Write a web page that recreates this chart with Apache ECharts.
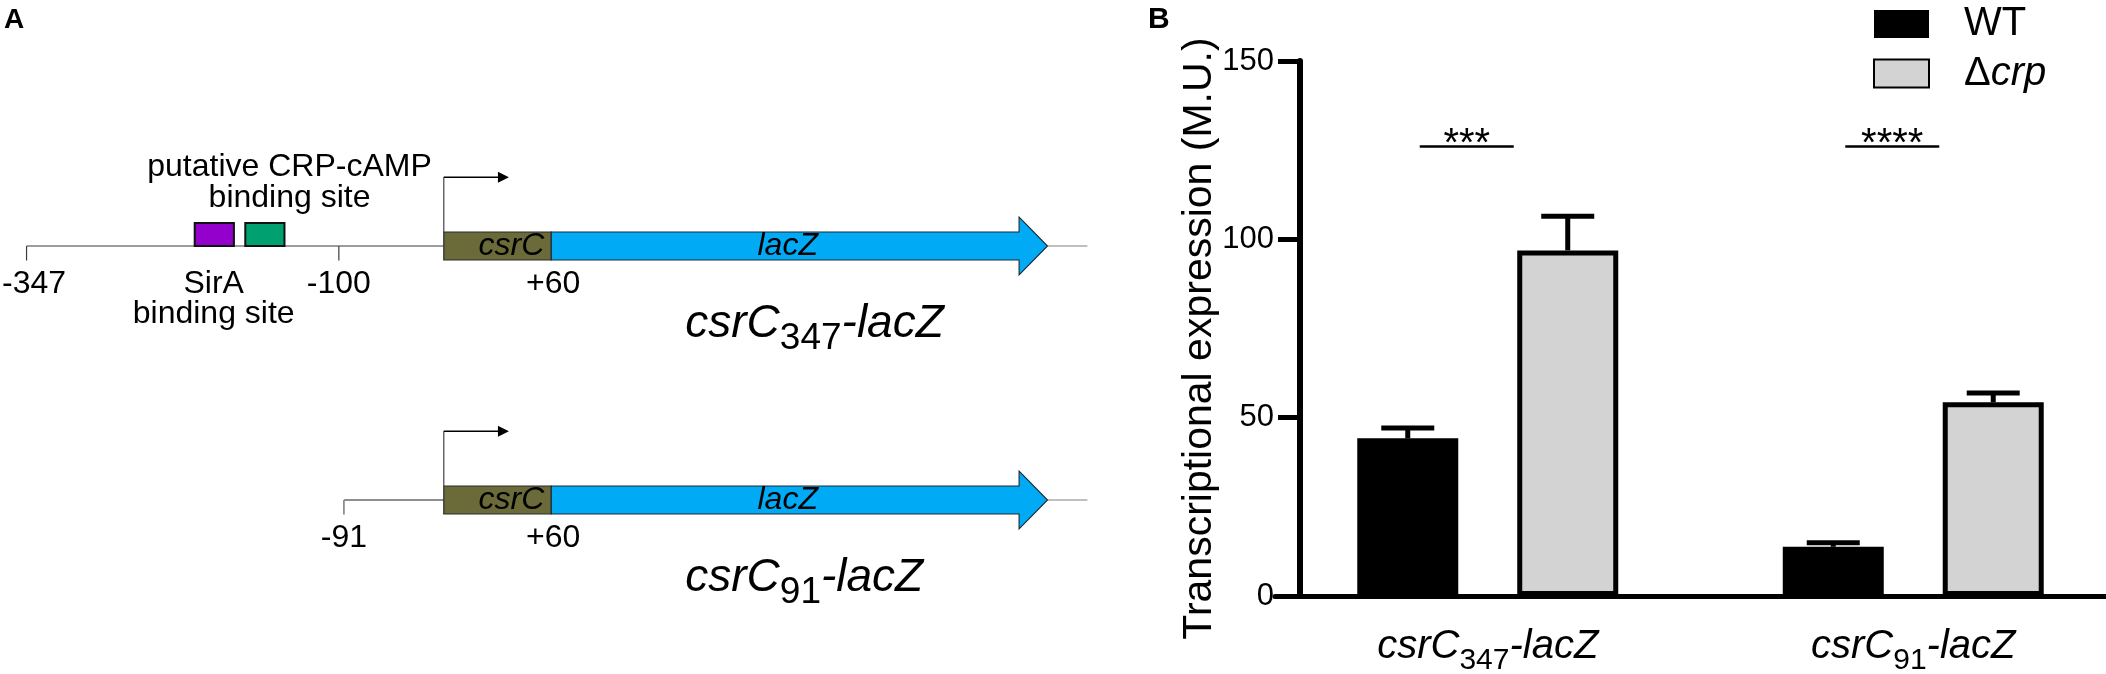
<!DOCTYPE html>
<html>
<head>
<meta charset="utf-8">
<title>csrC-lacZ fusions</title>
<script src="https://cdn.jsdelivr.net/npm/echarts@6.0.0/dist/echarts.min.js"></script>
<style>
  html, body { margin: 0; padding: 0; background: #fff; }
  #chart { width: 2106px; height: 674px; }
</style>
</head>
<body>
<div id="chart"></div>
<script>
// ---------- panel B : transcriptional expression (M.U.) ----------
var strains = ['WT', 'Δcrp'];
var fusions = ['csrC347-lacZ', 'csrC91-lacZ'];
var wtMean = [44.2, 13.8];
var wtErr = [2.9, 1.1];
var crpMean = [96.9, 54.3];
var crpErr = [9.6, 2.6];
var yTicks = [0, 50, 100, 150];
var sigLevel = [126, 126];
var sigLabels = ['***', '****'];

// ---------- panel A : constructs (bp, as drawn in the schematic) ----------
var constructStart = [-347, -96];
var constructStartLabel = ['-347', '-91'];
var extraTicks = [[-100], []];
var extraTickLabels = [['-100'], []];
var tssPos = -17;
var csrcEnd = 68;
var csrcEndLabel = '+60';
var lacZHead = 438;
var lacZTip = 460.5;
var tailEnd = 492;
var lacZLabelPos = 255;
var promoterArrowEnd = 34.5;
var constructLabelPos = 174;
var siteRow = [0, 0];
var siteFrom = [-214, -174];
var siteTo = [-183, -143];
var siteLabelPos = [-199, -139];
var siteLabels = ['SirA\nbinding site', 'putative CRP-cAMP\nbinding site'];

// ---------- styles ----------
var FONT = '"Liberation Sans", Arial, Helvetica, sans-serif';
var BAR_WIDTH = 101;
var BAR_GAP = 0.584;
var BAR_OFFSET = BAR_WIDTH * (1 + BAR_GAP) / 2;
var CAP_HALF = 26.5;
var SIG_HALF = 47;
var SIG_SHIFT = -21;
var BOX_HALF = 14;
var HEAD_HALF = 29;
var SITE_H = 23;
var TICK_LEN = 14.5;
var PROMOTER_H = 68.7;
var LABEL_DY = 22.5;
var SITE_COLORS = ['#9400cc', '#00a070'];
var SITE_LABEL_SIDE = ['below', 'above'];
var BACKBONE_COLOR = ['#3c3c3c', '#8e8e8e'];
var BACKBONE_WIDTH = [1.2, 1.8];
var OLIVE = '#6b6a39';
var BLUE = '#00aaf5';

var measureCtx = document.createElement('canvas').getContext('2d');
function textWidth(t, size) {
    measureCtx.font = size + 'px ' + FONT;
    return measureCtx.measureText(t).width;
}

function fusionRich(v) {
    return v.replace(/^csrC(\d+)-lacZ$/, '{i|csrC}{s|$1}{i|-lacZ}');
}

function seg(x1, y1, x2, y2, style) {
    return { type: 'line', shape: { x1: x1, y1: y1, x2: x2, y2: y2 }, style: style };
}
function txt(text, x, y, align, va, extra) {
    return {
        type: 'text',
        style: Object.assign({
            text: text, x: x, y: y, align: align, verticalAlign: va,
            fill: '#000', fontSize: 32, fontFamily: FONT, lineHeight: 30.5
        }, extra || {})
    };
}

// error bars
var errData = [];
wtMean.forEach(function (m, i) { errData.push([i, m, wtErr[i], 0]); });
crpMean.forEach(function (m, i) { errData.push([i, m, crpErr[i], 1]); });

function renderErr(params, api) {
    var c = api.value(0), m = api.value(1), e = api.value(2), s = api.value(3);
    var base = api.coord([c, m]);
    var top = api.coord([c, m + e]);
    var x = base[0] + (s === 0 ? -1 : 1) * BAR_OFFSET;
    var st = { stroke: '#000', lineWidth: 5 };
    return {
        type: 'group',
        children: [
            seg(x, base[1], x, top[1], st),
            seg(x - CAP_HALF, top[1], x + CAP_HALF, top[1], st)
        ]
    };
}

function renderSig(params, api) {
    var p = api.coord([api.value(0), api.value(1)]);
    var x = p[0] + SIG_SHIFT;
    return {
        type: 'group',
        children: [
            seg(x - SIG_HALF, p[1], x + SIG_HALF, p[1], { stroke: '#000', lineWidth: 2.5 }),
            txt(sigLabels[params.dataIndex], x, p[1] - 2, 'center', 'middle', { fontSize: 40, lineHeight: 40 })
        ]
    };
}

// one construct per row of panel A
function renderConstruct(params, api) {
    var row = api.value(1);
    var y = api.coord([constructStart[row], row])[1];
    function px(v) { return api.coord([v, row])[0]; }
    var xs = px(constructStart[row]), xt = px(tssPos), xc = px(csrcEnd);
    var xh = px(lacZHead), xtip = px(lacZTip), xe = px(tailEnd);
    var thin = { stroke: BACKBONE_COLOR[row], lineWidth: BACKBONE_WIDTH[row] };
    var kids = [];

    kids.push(seg(xs, y, xt, y, thin));
    kids.push(seg(xtip, y, xe, y, { stroke: '#808080', lineWidth: 1 }));

    var ticks = [constructStart[row]].concat(extraTicks[row]);
    var tickLabels = [constructStartLabel[row]].concat(extraTickLabels[row]);
    ticks.forEach(function (t, k) {
        var tx = px(t);
        kids.push(seg(tx, y, tx, y + TICK_LEN, thin));
        var lx = Math.max(tx, 2 + textWidth(tickLabels[k], 32) / 2);
        kids.push(txt(tickLabels[k], lx, y + LABEL_DY, 'center', 'top'));
    });

    siteRow.forEach(function (r, k) {
        if (r !== row) return;
        var x1 = px(siteFrom[k]), x2 = px(siteTo[k]);
        kids.push({
            type: 'rect',
            shape: { x: x1, y: y - SITE_H, width: x2 - x1, height: SITE_H },
            style: { fill: SITE_COLORS[k], stroke: '#111', lineWidth: 2 }
        });
        if (SITE_LABEL_SIDE[k] === 'below') {
            kids.push(txt(siteLabels[k], px(siteLabelPos[k]), y + LABEL_DY, 'center', 'top'));
        } else {
            kids.push(txt(siteLabels[k], px(siteLabelPos[k]), y - 32.8, 'center', 'bottom'));
        }
    });

    // csrC box and lacZ arrow
    kids.push({
        type: 'rect',
        shape: { x: xt, y: y - BOX_HALF, width: xc - xt, height: BOX_HALF * 2 },
        style: { fill: OLIVE, stroke: '#2a2a2a', lineWidth: 1.2 }
    });
    kids.push({
        type: 'polygon',
        shape: { points: [
            [xc, y - BOX_HALF], [xh, y - BOX_HALF], [xh, y - HEAD_HALF], [xtip, y],
            [xh, y + HEAD_HALF], [xh, y + BOX_HALF], [xc, y + BOX_HALF]
        ] },
        style: { fill: BLUE, stroke: '#1d2a36', lineWidth: 1.1 }
    });
    kids.push(txt('csrC', xc - 7, y, 'right', 'middle', { fontStyle: 'italic', lineHeight: 32 }));
    kids.push(txt('lacZ', px(lacZLabelPos), y, 'center', 'middle', { fontStyle: 'italic', lineHeight: 32 }));
    kids.push(txt(csrcEndLabel, xc + 2, y + LABEL_DY, 'center', 'top'));

    // transcription start arrow
    var xa = px(promoterArrowEnd), ya = y - PROMOTER_H;
    kids.push(seg(xt, y - BOX_HALF, xt, ya, { stroke: '#444', lineWidth: 1.2 }));
    kids.push(seg(xt, ya, xa - 10, ya, { stroke: '#000', lineWidth: 1.5 }));
    kids.push({
        type: 'polygon',
        shape: { points: [[xa - 11, ya - 5.5], [xa, ya], [xa - 11, ya + 5.5]] },
        style: { fill: '#000' }
    });

    // construct name
    kids.push({
        type: 'text',
        style: {
            text: fusionRich(fusions[row]), x: px(constructLabelPos), y: y + 55,
            align: 'left', verticalAlign: 'top',
            rich: {
                i: { fontSize: 46, lineHeight: 46, fontStyle: 'italic', fontFamily: FONT, fill: '#000', verticalAlign: 'top' },
                s: { fontSize: 37, lineHeight: 37, fontFamily: FONT, fill: '#000', verticalAlign: 'top', padding: [19, 0, 0, 0] }
            }
        }
    });

    return { type: 'group', children: kids };
}

var chart = echarts.init(document.getElementById('chart'));
var option = {
    backgroundColor: '#fff',
    animation: false,
    textStyle: { fontFamily: FONT },
    graphic: [
        { type: 'text', left: 4, top: 6, style: { text: 'A', font: 'bold 28px ' + FONT, fill: '#000' } },
        { type: 'text', left: 1148, top: 5, style: { text: 'B', font: 'bold 30px ' + FONT, fill: '#000' } }
    ],
    legend: {
        orient: 'vertical',
        left: 1873,
        top: 4,
        padding: 0,
        itemGap: 9.5,
        itemWidth: 55,
        itemHeight: 28,
        icon: 'rect',
        selectedMode: false,
        data: [{ name: strains[0], itemStyle: { borderWidth: 0 } }, { name: strains[1] }],
        formatter: function (n) {
            return n.charAt(0) === 'Δ' ? '{t|Δ}{i|' + n.slice(1) + '}' : '{t|' + n + '}';
        },
        textStyle: {
            padding: [0, 0, 0, 30],
            rich: {
                t: { fontSize: 40, lineHeight: 40, color: '#000', fontFamily: FONT },
                i: { fontSize: 40, lineHeight: 40, color: '#000', fontFamily: FONT, fontStyle: 'italic' }
            }
        }
    },
    grid: [
        { left: 1275, right: -20, top: 61, bottom: 78, outerBoundsMode: 'none' },
        { left: 0, width: 1100, top: 119, height: 508, outerBoundsMode: 'none' }
    ],
    xAxis: [
        {
            type: 'category',
            gridIndex: 0,
            data: fusions,
            axisLine: { lineStyle: { color: '#000', width: 5 } },
            axisTick: { alignWithLabel: true, length: 22, lineStyle: { color: '#000', width: 5 } },
            axisLabel: {
                margin: 31,
                formatter: function (v) { return fusionRich(v); },
                rich: {
                    i: { fontSize: 40, lineHeight: 40, fontStyle: 'italic', fontFamily: FONT, color: '#000', verticalAlign: 'top' },
                    s: { fontSize: 30, lineHeight: 30, fontFamily: FONT, color: '#000', verticalAlign: 'top', padding: [19, 0, 0, 0] }
                }
            },
            splitLine: { show: false }
        },
        { type: 'value', gridIndex: 1, min: -368, max: 502, show: false }
    ],
    yAxis: [
        {
            type: 'value',
            gridIndex: 0,
            min: yTicks[0],
            max: yTicks[yTicks.length - 1],
            interval: yTicks[1] - yTicks[0],
            offset: -25,
            axisLine: { show: true, lineStyle: { color: '#000', width: 6 } },
            axisTick: { show: true, length: 22, lineStyle: { color: '#000', width: 5 } },
            axisLabel: { margin: 26, fontSize: 31, color: '#000', fontFamily: FONT },
            splitLine: { show: false },
            name: 'Transcriptional expression (M.U.)',
            nameLocation: 'middle',
            nameGap: 80,
            nameMoveOverlap: false,
            nameTextStyle: { fontSize: 41, color: '#000', fontFamily: FONT, padding: [0, 20, 0, 0] }
        },
        { type: 'category', gridIndex: 1, data: fusions, inverse: true, show: false }
    ],
    series: [
        {
            name: strains[0], type: 'bar', data: wtMean,
            barWidth: BAR_WIDTH, barGap: (BAR_GAP * 100) + '%',
            itemStyle: { color: '#000', borderColor: '#000', borderWidth: 5 },
            emphasis: { disabled: true }
        },
        {
            name: strains[1], type: 'bar', data: crpMean,
            barWidth: BAR_WIDTH, barGap: (BAR_GAP * 100) + '%',
            itemStyle: { color: '#d3d3d3', borderColor: '#000', borderWidth: 5 },
            emphasis: { disabled: true }
        },
        { type: 'custom', name: 'error', renderItem: renderErr, data: errData, z: 5, silent: true },
        {
            type: 'custom', name: 'significance', renderItem: renderSig, silent: true,
            data: sigLevel.map(function (v, i) { return [i, v]; })
        },
        {
            type: 'custom', name: 'constructs', xAxisIndex: 1, yAxisIndex: 1,
            renderItem: renderConstruct, clip: false, silent: true,
            data: fusions.map(function (n, i) { return [constructStart[i], i]; })
        }
    ]
};
chart.setOption(option);
window.addEventListener('resize', function () { chart.resize(); });
</script>
</body>
</html>
